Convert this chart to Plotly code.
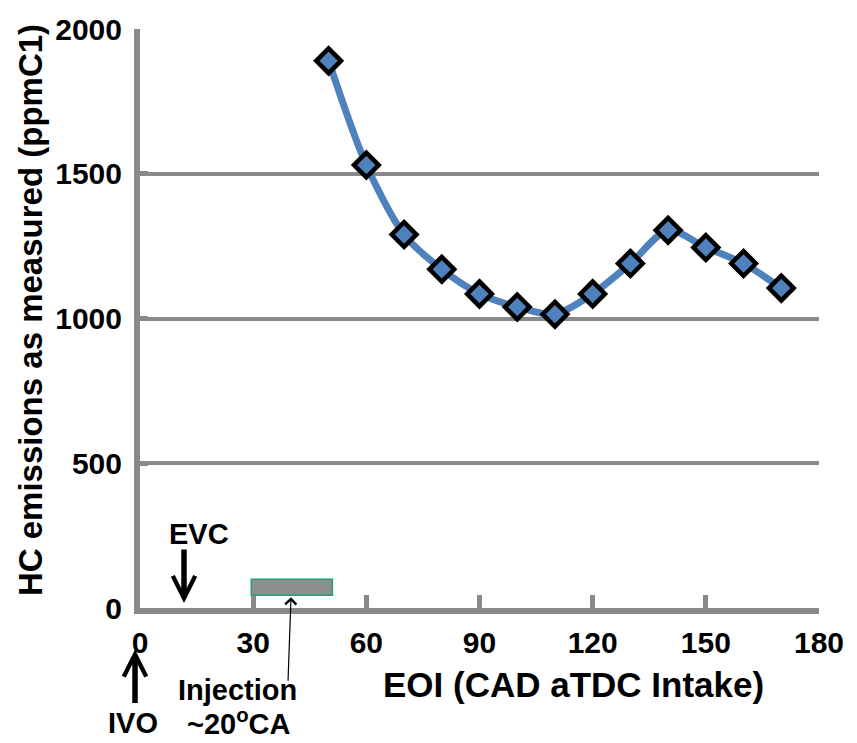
import plotly.graph_objects as go

# End of injection (CAD aTDC intake) and measured HC emissions (ppmC1)
eoi = [50, 60, 70, 80, 90, 100, 110, 120, 130, 140, 150, 160, 170]
hc_ppm = [1890, 1530, 1290, 1170, 1085, 1040, 1015, 1085, 1190, 1305, 1245, 1190, 1105]

x_ticks = [0, 30, 60, 90, 120, 150, 180]
y_ticks = [0, 500, 1000, 1500, 2000]

# Injection window marker (about 20 CA wide)
inj_start, inj_end = 29.5, 51
inj_low, inj_high = 44, 99

BLUE = "#4F81BD"
GRID = "#898989"
FONT = "Liberation Sans, Arial, sans-serif"

# plot-area geometry in pixels, used to place the free-standing labels
L, R, T, B = 140, 38, 21, 135
W, H = 857, 743
PW, PH = W - L - R, H - T - B


def px(x):
    return (x - L) / PW


def py(y):
    return (H - B - y) / PH


fig = go.Figure()
fig.add_trace(go.Scatter(
    x=eoi, y=hc_ppm, mode="lines+markers",
    line=dict(color=BLUE, width=7, shape="spline", smoothing=0.8),
    marker=dict(symbol="diamond", size=19, color=BLUE,
                line=dict(color="black", width=4.5)),
    showlegend=False, cliponaxis=False,
))

fig.add_shape(type="rect", xref="x", yref="y",
              x0=inj_start, x1=inj_end, y0=inj_low, y1=inj_high,
              fillcolor="#8E8E8E", line=dict(color="#1FA07A", width=1.5))

tick_font = dict(family=FONT, size=30, color="black", weight="bold")
label_font = dict(family=FONT, size=29, color="black", weight="bold")

annotations = [
    # EVC arrow and label
    dict(x=px(184), y=py(603), xref="paper", yref="paper", ax=0, ay=-55,
         text="", showarrow=True, arrowhead=5, arrowwidth=5.5, arrowsize=0.8,
         arrowcolor="black"),
    dict(x=px(199), y=py(533), xref="paper", yref="paper",
         text="EVC", showarrow=False, font=label_font, xanchor="center", yanchor="middle"),
    # IVO arrow and label
    dict(x=px(135), y=py(650), xref="paper", yref="paper", ax=0, ay=55,
         text="", showarrow=True, arrowhead=5, arrowwidth=5.5, arrowsize=0.8,
         arrowcolor="black"),
    dict(x=px(133), y=py(725), xref="paper", yref="paper",
         text="IVO", showarrow=False, font=label_font, xanchor="center", yanchor="middle"),
    # Injection pointer and label
    dict(x=px(291), y=py(597), xref="paper", yref="paper", ax=-3, ay=85,
         text="", showarrow=True, arrowhead=4, arrowwidth=1.2, arrowsize=1.8,
         arrowcolor="black"),
    dict(x=px(237.5), y=py(691), xref="paper", yref="paper",
         text="Injection", showarrow=False, font=label_font, xanchor="center", yanchor="middle"),
    dict(x=px(238.5), y=py(724), xref="paper", yref="paper",
         text="~20<sup>o</sup>CA", showarrow=False, font=label_font,
         xanchor="center", yanchor="middle"),
    # Axis titles
    dict(x=px(573), y=py(686), xref="paper", yref="paper",
         text="EOI (CAD aTDC Intake)", showarrow=False,
         font=dict(family=FONT, size=35, color="black", weight="bold"),
         xanchor="center", yanchor="middle"),
    dict(x=px(30), y=py(306), xref="paper", yref="paper",
         text="HC emissions as measured (ppmC1)", showarrow=False, textangle=-90,
         font=dict(family=FONT, size=33, color="black", weight="bold"),
         xanchor="center", yanchor="middle"),
]

fig.update_layout(
    width=W, height=H,
    margin=dict(l=L, r=R, t=T, b=B, pad=0),
    paper_bgcolor="white", plot_bgcolor="white",
    annotations=annotations,
    xaxis=dict(range=[0, 180], tickvals=x_ticks, ticktext=[str(v) for v in x_ticks],
               showgrid=False, zeroline=False,
               showline=True, linecolor=GRID, linewidth=6,
               ticks="inside", ticklen=13, tickwidth=5, tickcolor=GRID,
               tickfont=tick_font, ticklabelstandoff=3),
    yaxis=dict(range=[0, 2000], tickvals=y_ticks, ticktext=[str(v) for v in y_ticks],
               showgrid=True, gridcolor=GRID, gridwidth=3.5, zeroline=False,
               showline=True, linecolor=GRID, linewidth=6,
               ticks="inside", ticklen=8, tickwidth=5, tickcolor=GRID,
               tickfont=tick_font, ticklabelstandoff=6),
)

fig.write_html("out.html")
